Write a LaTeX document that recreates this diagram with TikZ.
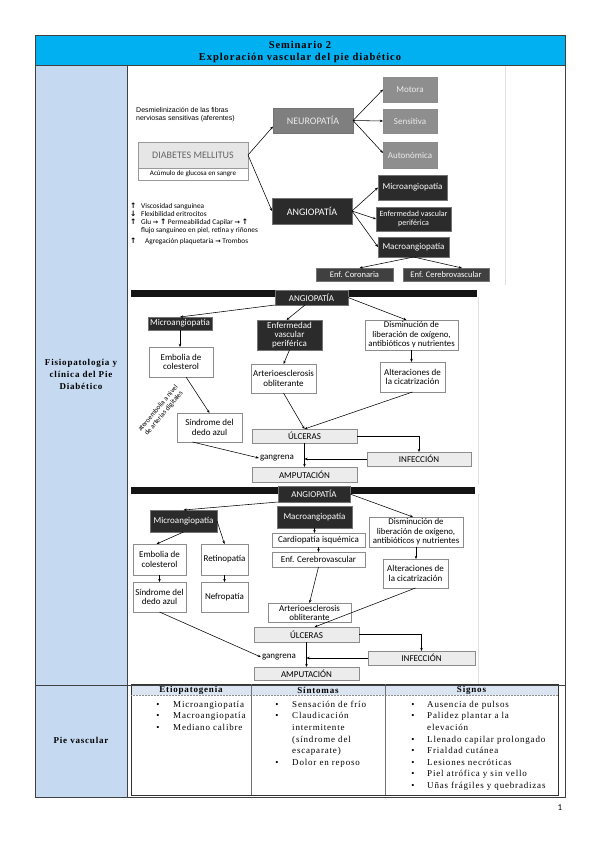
\documentclass[tikz,border=0pt]{standalone}
\usepackage{fontspec}
\setmainfont{Liberation Serif}
\newfontfamily\calf{Carlito}
\newfontfamily\arif{Liberation Sans}
\newfontfamily\djvf{DejaVu Sans}
\newfontfamily\tserif[LetterSpace=9]{Liberation Serif}
\usetikzlibrary{arrows.meta,calc}
\definecolor{cyanhd}{HTML}{00B0F0}
\definecolor{lblue}{HTML}{C5D9F1}
\definecolor{thead}{HTML}{DBE5F1}
\definecolor{dkfill}{HTML}{2B2B2B}
\definecolor{gyfill}{HTML}{7F7F7F}
\definecolor{gyfill2}{HTML}{8E8E8E}
\definecolor{ltfill}{HTML}{ECECEC}
\definecolor{dmfill}{HTML}{E6E6E6}
\definecolor{bdr}{HTML}{8C8C8C}
\definecolor{coron}{HTML}{404040}
\newcommand\fs[2]{\fontsize{#1}{#2}\selectfont}
\newcommand\bx[7]{\node[#6,minimum width={(#4-#2)*1pt},minimum height={(#5-#3)*1pt}] (#1) at ({(#2+#4)/2},{(#3+#5)/2}) {#7};}
\newcommand\upa{{\djvf\bfseries\fs{7.5}{8}↑}}
\newcommand\dna{{\djvf\bfseries\fs{7.5}{8}↓}}
\newcommand\rta{{\djvf\bfseries\fs{6.5}{8}→}}
\tikzset{
  base/.style={inner sep=0.5pt, outer sep=0pt, align=center, line width=0.5pt},
  dk/.style={base, draw=black!55, fill=dkfill, text=white},
  gy/.style={base, draw=black!55, fill=gyfill, text=white},
  gy2/.style={base, draw=black!45, fill=gyfill2, text=white},
  cr/.style={base, draw=black!55, fill=coron, text=white},
  wt/.style={base, draw=bdr, fill=white, text=black},
  lt/.style={base, draw=bdr, fill=ltfill, text=black},
  ar/.style={-{Stealth[length=3.2pt,width=2.6pt]}, line width=0.55pt, black},
  f9/.style={font={\calf\fs{9}{9.6}}},
  f8/.style={font={\calf\fs{8}{9}}},
  f10/.style={font={\calf\fs{10}{11}}},
  lst/.style={font={\calf\fs{7.3}{8}}, inner sep=0pt, anchor=base west},
  tbl/.style={line width=0.8pt, draw=black!75},
  tx/.style={font={\tserif\fs{9}{10}}, inner sep=0pt, anchor=base west},
  bul/.style={font={\tserif\fs{9}{10}}, inner sep=0pt, anchor=base},
}
\begin{document}
\begin{tikzpicture}[x=1pt,y=-1pt]
\useasboundingbox (0,0) rectangle (599,848);
\fill[white] (0,0) rectangle (599,848);
% ---------- outer table ----------
\fill[cyanhd] (35,35) rectangle (565,65);
\fill[lblue] (35,65) rectangle (127,797);
\draw[black!12] (505,66) -- (505,285);
\draw[black!12] (478,297) -- (478,484);
\draw[black!12] (478,494) -- (478,684);
\node[font={\tserif\bfseries\fs{10.5}{12}}, inner sep=0] (h1) at (300,45) {Seminario 2};
\node[font={\tserif\bfseries\fs{10.5}{12}}, inner sep=0] (h2) at (300,57.5) {Exploración vascular del pie diabético};
\node[font={\tserif\bfseries\fs{9}{12}}, align=center, inner sep=0] (fis) at (81,374) {Fisiopatología y\\clínica del Pie\\Diabético};
\node[font={\tserif\bfseries\fs{9}{12}}, inner sep=0] (pv) at (81,740) {Pie vascular};
% ---------- diagram 1 ----------
\node[anchor=north west, font={\arif\fs{7}{8.3}}, align=left, inner sep=0] (desm) at (136,107) {Desmielinización de las fibras\\nerviosas sensitivas (aferentes)};
\bx{dmt}{138}{142}{248}{168}{base,draw=black!40,fill=dmfill,text=black!60,f10}{DIABETES MELLITUS}
\bx{dmb}{138}{168}{248}{180}{base,draw=black!40,fill=white,font={\calf\fs{7}{8}}}{Acúmulo de glucosa en sangre}
\bx{neu}{273}{108}{353}{133}{gy,f10,text=white!92!black}{NEUROPATÍA}
\bx{mot}{383}{77}{437}{102}{gy2,f9,text=white!92!black}{Motora}
\bx{sen}{383}{109}{437}{133}{gy2,f9,text=white!92!black}{Sensitiva}
\bx{aut}{383}{142}{437}{168}{gy2,f9,text=white!92!black}{Autonómica}
\bx{ang}{272}{198}{352}{224}{dk,f10}{ANGIOPATÍA}
\bx{mic}{378}{175}{447}{200}{dk,f9}{Microangiopatía}
\bx{evp}{376}{207}{451}{231}{dk,f8}{Enfermedad vascular\\periférica}
\bx{mac}{378}{237}{449}{257}{dk,f9}{Macroangiopatía}
\bx{cor}{316}{268}{393}{281}{cr,font={\calf\fs{8.5}{9}}}{Enf. Coronaria}
\bx{cer}{403}{268}{489}{281}{cr,font={\calf\fs{8.5}{9}}}{Enf. Cerebrovascular}
\draw[ar] (dmt.east) -- ([yshift=-6pt]neu.west);
\draw[ar] (dmt.east) -- (ang.west);
\draw[ar] (neu.east) -- (mot.west);
\draw[ar] (neu.east) -- (sen.west);
\draw[ar] (neu.east) -- ([yshift=2pt]aut.west);
\draw[ar] (ang.east) -- (mic.west);
\draw[ar] (ang.east) -- (evp.west);
\draw[ar] (ang.east) -- (mac.west);
\draw[ar] (mac.south) -- ([xshift=5pt]cor.north);
\draw[ar] (mac.south) -- ([xshift=16pt]cer.north);
\node[lst] (la1) at (130,208.5) {\upa};
\node[lst] (lt1) at (141,208.5) {Viscosidad sanguínea};
\node[lst] (la2) at (130,216.5) {\dna};
\node[lst] (lt2) at (141,216.5) {Flexibilidad eritrocitos};
\node[lst] (la3) at (130,224.5) {\upa};
\node[lst] (lt3) at (141,224.5) {Glu \rta\ \upa\ Permeabilidad Capilar \rta\ \upa};
\node[lst] (lt4) at (141,232.5) {flujo sanguíneo en piel, retina y riñones};
\node[lst] (la5) at (130,243.5) {\upa};
\node[lst] (lt5) at (145,243.5) {Agregación plaquetaria \rta\ Trombos};
% ---------- diagram 2 ----------
\fill[black!92] (131,290) rectangle (477,297);
\bx{angb}{275}{290}{348}{305}{dk,f9}{ANGIOPATÍA}
\bx{micb}{148}{317}{212}{330}{dk,f9}{Microangiopatía}
\bx{evpb}{257}{320}{322}{350}{dk,font={\calf\fs{9}{9.4}}}{Enfermedad\\vascular\\periférica}
\bx{disb}{365}{320}{458}{350}{wt,font={\calf\fs{8.8}{9.4}}}{Disminución de\\liberación de oxígeno,\\antibióticos y nutrientes}
\bx{altb}{380}{362}{445}{392}{wt,f9}{Alteraciones de\\la cicatrización}
\bx{embb}{149}{347}{213}{377}{wt,f9}{Embolia de\\colesterol}
\bx{artb}{251}{364}{316}{393}{wt,f9}{Arterioesclerosis\\obliterante}
\bx{sinb}{177}{413}{242}{442}{wt,f9}{Síndrome del\\dedo azul}
\bx{ulcb}{252}{429}{357}{443}{lt,f9}{ÚLCERAS}
\node[f9, inner sep=1pt] (gngb) at (277,458) {gangrena};
\bx{ampb}{252}{467}{357}{482}{lt,f9}{AMPUTACIÓN}
\bx{infb}{367}{452}{471}{466}{lt,f9}{INFECCIÓN}
\node[rotate=50, font={\calf\fs{7}{7.6}}, align=center, inner sep=0] (atrb) at (161,411) {ateroembolia a nivel\\de arterias digitales};
\draw[ar] (angb.south west) -- (micb.north);
\draw[ar] ([xshift=30pt]angb.south west) -- ([xshift=-3pt]evpb.north);
\draw[ar] (angb.east) -- ([xshift=-5pt]disb.north);
\draw[ar] (disb.south) -- (disb.south |- altb.north);
\draw[ar] (micb.south) -- (micb.south |- embb.north);
\draw[ar] (evpb.south) -- (artb.north);
\draw[ar] ([xshift=5pt]embb.south) -- (sinb.north);
\draw[ar] (artb.south) -- (ulcb.north);
\draw[ar] (altb.south) -- (ulcb.north);
\draw[ar] (ulcb.south) -- (ampb.north);
\draw[ar] (ulcb.east) -| (infb.north);
\draw[ar] (infb.west) -- (infb.west -| ulcb.south);
\draw[ar] ([xshift=-17pt]sinb.south) -- (gngb.west);
% ---------- diagram 3 ----------
\fill[black!92] (131,487) rectangle (475,494);
\bx{angc}{278}{486}{350}{502}{dk,f9}{ANGIOPATÍA}
\bx{macc}{277}{506}{352}{528}{dk,f9}{Macroangiopatía}
\bx{micc}{150}{510}{217}{532}{dk,f9}{Microangiopatía}
\bx{carc}{272}{533}{365}{547}{wt,f9}{Cardiopatía isquémica}
\bx{cerc}{272}{552}{365}{567}{wt,f9}{Enf. Cerebrovascular}
\bx{disc}{369}{517}{463}{547}{wt,font={\calf\fs{8.8}{9.4}}}{Disminución de\\liberación de oxígeno,\\antibióticos y nutrientes}
\bx{altc}{383}{559}{448}{588}{wt,f9}{Alteraciones de\\la cicatrización}
\bx{embc}{133}{544}{186}{575}{wt,f9}{Embolia de\\colesterol}
\bx{retc}{201}{544}{248}{575}{wt,f9}{Retinopatía}
\bx{sinc}{133}{582}{186}{612}{wt,f9}{Síndrome del\\dedo azul}
\bx{nefc}{201}{582}{248}{612}{wt,f9}{Nefropatía}
\bx{artc}{268}{603}{351}{622}{wt,font={\calf\fs{9}{9}}}{Arterioesclerosis\\obliterante}
\bx{ulcc}{254}{627}{359}{642}{lt,f9}{ÚLCERAS}
\node[f9, inner sep=1pt] (gngc) at (279,657) {gangrena};
\bx{ampc}{254}{667}{359}{680}{lt,f9}{AMPUTACIÓN}
\bx{infc}{368}{651}{475}{665}{lt,f9}{INFECCIÓN}
\draw[ar] (angc.south west) -- (micc.north);
\draw[ar] (macc.south) -- (macc.south |- carc.north);
\draw[ar] (carc.south) -- (cerc.north);
\draw[ar] (angc.east) -- ([xshift=-3pt]disc.north);
\draw[ar] (disc.south) -- (disc.south |- altc.north);
\draw[ar] (micc.south) -- ([xshift=-3pt]embc.north);
\draw[ar] (micc.east) -- (retc.north);
\draw[ar] (embc.south) -- (sinc.north);
\draw[ar] (retc.south) -- (nefc.north);
\draw[ar] (cerc.south) -- (artc.north);
\draw[ar] (altc.south) -- ([xshift=8pt]ulcc.north);
\draw[ar] (ulcc.south) -- (ampc.north);
\draw[ar] (ulcc.east) -| (infc.north);
\draw[ar] (infc.west) -- (infc.west -| ulcc.south);
\draw[ar] (sinc.south) -- (gngc.west);
% ---------- inner table ----------
\fill[thead] (131,684) rectangle (558,695);
\draw[line width=0.6pt, black!80] (131,684) rectangle (558,795);
\draw[line width=0.5pt, black!45, densely dotted] (131,695) -- (558,695);
\draw[line width=0.8pt, black!55] (251,684) -- (251,795);
\draw[line width=0.8pt, black!55] (385,684) -- (385,795);
\node[font={\tserif\bfseries\fs{9}{10}}, inner sep=0] (th1) at (191,690) {Etiopatogenia};
\node[font={\tserif\bfseries\fs{9}{10}}, inner sep=0] (th2) at (318,690) {Síntomas};
\node[font={\tserif\bfseries\fs{9}{10}}, inner sep=0] (th3) at (471.5,690) {Signos};
% etiopatogenia
\node[bul] (eb1) at (158,707.2) {•}; \node[tx] (et1) at (173,707.2) {Microangiopatía};
\node[bul] (eb2) at (158,718.8) {•}; \node[tx] (et2) at (173,718.8) {Macroangiopatía};
\node[bul] (eb3) at (158,730.4) {•}; \node[tx] (et3) at (173,730.4) {Mediano calibre};
% sintomas
\node[bul] (sb1) at (277,707.2) {•}; \node[tx] (st1) at (292,707.2) {Sensación de frío};
\node[bul] (sb2) at (277,718.8) {•}; \node[tx] (st2) at (292,718.8) {Claudicación};
\node[tx] (st3) at (292,730.4) {intermitente};
\node[tx] (st4) at (292,742) {(síndrome del};
\node[tx] (st5) at (292,753.6) {escaparate)};
\node[bul] (sb6) at (277,765.2) {•}; \node[tx] (st6) at (292,765.2) {Dolor en reposo};
% signos
\node[bul] (gb1) at (413,707.2) {•}; \node[tx] (gt1) at (427,707.2) {Ausencia de pulsos};
\node[bul] (gb2) at (413,718.8) {•}; \node[tx] (gt2) at (427,718.8) {Palidez plantar a la};
\node[tx] (gt3) at (427,730.4) {elevación};
\node[bul] (gb4) at (413,742) {•}; \node[tx] (gt4) at (427,742) {Llenado capilar prolongado};
\node[bul] (gb5) at (413,753.6) {•}; \node[tx] (gt5) at (427,753.6) {Frialdad cutánea};
\node[bul] (gb6) at (413,765.2) {•}; \node[tx] (gt6) at (427,765.2) {Lesiones necróticas};
\node[bul] (gb7) at (413,776.8) {•}; \node[tx] (gt7) at (427,776.8) {Piel atrófica y sin vello};
\node[bul] (gb8) at (413,788.4) {•}; \node[tx] (gt8) at (427,788.4) {Uñas frágiles y quebradizas};
% outer grid lines on top
\draw[tbl] (35,35) rectangle (565,797);
\draw[tbl] (35,65) -- (565,65);
\draw[tbl] (35,685) -- (565,685);
\draw[tbl] (127,65) -- (127,797);
\node[font={\calf\fs{9}{10}}, inner sep=0] (pg) at (560,808) {1};
\end{tikzpicture}
\end{document}
